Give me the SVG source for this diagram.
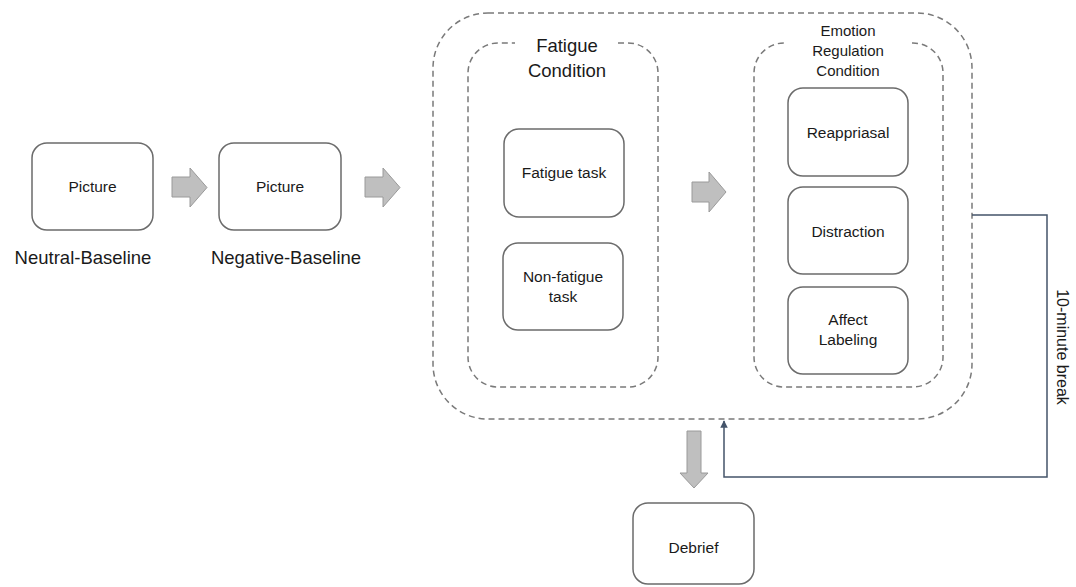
<svg xmlns="http://www.w3.org/2000/svg" width="1076" height="587" viewBox="0 0 1076 587">
<defs>
<style>
.box{fill:#fff;stroke:#6b6b6b;stroke-width:1.5}
.dash{fill:none;stroke:#7a7a7a;stroke-width:1.5;stroke-dasharray:6 4}
.blk{fill:#bfbfbf;stroke:#9a9a9a;stroke-width:1}
.t{font-family:"Liberation Sans",Arial,sans-serif;fill:#1a1a1a;text-anchor:middle}
.s15{font-size:15.5px}
.s18{font-size:18.5px}
.s14{font-size:15px}
.link{fill:none;stroke:#44546a;stroke-width:1.5}
</style>
<marker id="ah" viewBox="0 0 10 10" refX="9" refY="5" markerWidth="5" markerHeight="5" orient="auto">
<path d="M0,0 L10,5 L0,10 z" fill="#44546a"/>
</marker>
</defs>
<rect width="1076" height="587" fill="#fff"/>

<g id="session-container">
<rect class="dash" x="433" y="13" width="539" height="406" rx="55" ry="55"/>
</g>

<g id="fatigue-condition">
<path class="dash" d="M618,43 H628 A30 30 0 0 1 658 73 V357 A30 30 0 0 1 628 387 H498 A30 30 0 0 1 468 357 V73 A30 30 0 0 1 498 43 H515"/>
<text class="t s18" x="567" y="52">Fatigue</text>
<text class="t s18" x="567" y="77">Condition</text>
</g>

<g id="emotion-regulation-condition">
<path class="dash" d="M912,43 H913 A30 30 0 0 1 943 73 V357 A30 30 0 0 1 913 387 H784 A30 30 0 0 1 754 357 V73 A30 30 0 0 1 784 43"/>
<text class="t s14" x="848" y="36">Emotion</text>
<text class="t s14" x="848" y="56">Regulation</text>
<text class="t s14" x="848" y="76">Condition</text>
</g>

<g id="neutral-baseline">
<rect class="box" x="32" y="143" width="121" height="87" rx="15"/>
<text class="t s15" x="92.5" y="192">Picture</text>
<text class="t s18" x="83" y="264">Neutral-Baseline</text>
</g>

<g id="negative-baseline">
<rect class="box" x="219" y="143" width="122" height="87" rx="15"/>
<text class="t s15" x="280" y="192">Picture</text>
<text class="t s18" x="286" y="264">Negative-Baseline</text>
</g>

<g id="fatigue-task">
<rect class="box" x="504" y="129" width="120" height="88" rx="15"/>
<text class="t s15" x="564" y="178">Fatigue task</text>
</g>

<g id="non-fatigue-task">
<rect class="box" x="503" y="243" width="120" height="87" rx="15"/>
<text class="t s15" x="563" y="282">Non-fatigue</text>
<text class="t s15" x="563" y="302">task</text>
</g>

<g id="reappraisal">
<rect class="box" x="788" y="88" width="120" height="88" rx="15"/>
<text class="t s15" x="848" y="138">Reappriasal</text>
</g>

<g id="distraction">
<rect class="box" x="788" y="187" width="120" height="87" rx="15"/>
<text class="t s15" x="848" y="237">Distraction</text>
</g>

<g id="affect-labeling">
<rect class="box" x="788" y="287" width="120" height="87" rx="15"/>
<text class="t s15" x="848" y="325">Affect</text>
<text class="t s15" x="848" y="345">Labeling</text>
</g>

<g id="debrief">
<rect class="box" x="633" y="503" width="121" height="81" rx="15"/>
<text class="t s15" x="693.5" y="553">Debrief</text>
</g>

<g id="connectors">
<polygon class="blk" points="172,177 190,177 190,168 207,187.5 190,207 190,197 172,197"/>
<polygon class="blk" points="365,177 383,177 383,168 400,187.5 383,207 383,197 365,197"/>
<polygon class="blk" points="692,182 709,182 709,172 726,192 709,212 709,202 692,202"/>
<polygon class="blk" points="687,431 701,431 701,473 708,473 694,488 680,473 687,473"/>
<path class="link" d="M972,215 H1047 V477 H724 V421" marker-end="url(#ah)"/>
<text class="t" font-size="16" transform="translate(1057,347) rotate(90)">10-minute break</text>
</g>
</svg>
